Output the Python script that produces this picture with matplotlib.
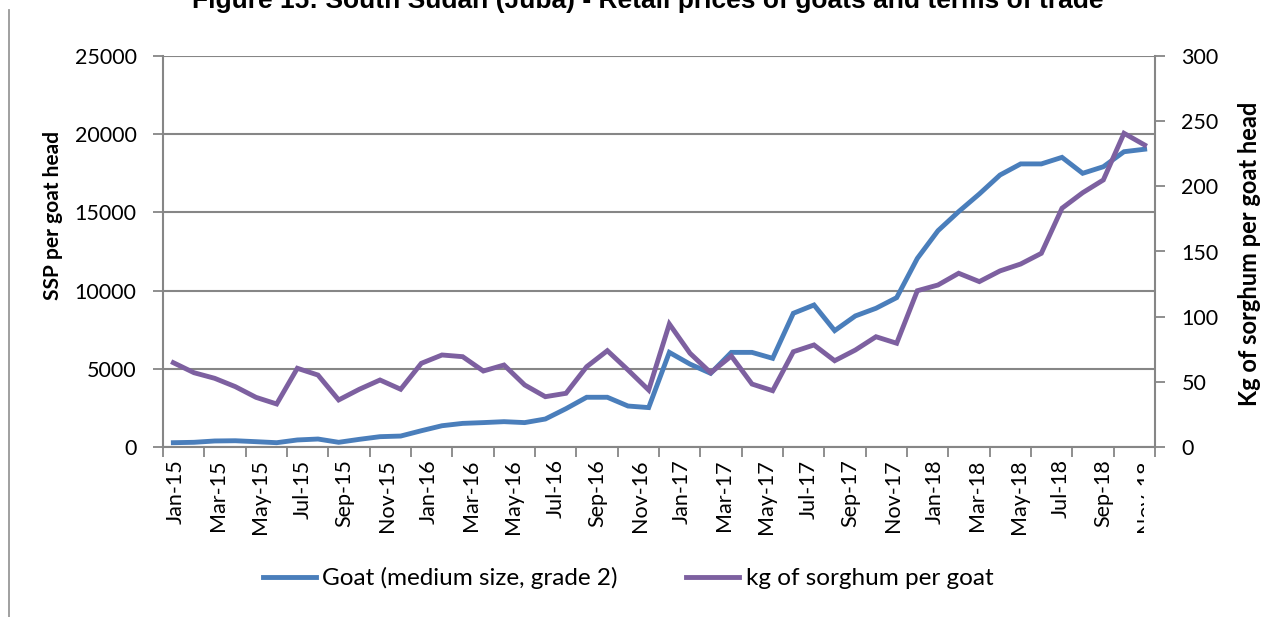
import matplotlib
matplotlib.use("Agg")
from matplotlib import pyplot as plt
from matplotlib.transforms import Bbox, TransformedBbox
import numpy as np

# monthly series, Jan-15 .. Dec-18
months = ["Jan", "Feb", "Mar", "Apr", "May", "Jun", "Jul", "Aug", "Sep", "Oct", "Nov", "Dec"]
labels = [m + "-" + y for y in ["15", "16", "17", "18"] for m in months]

goat_price = [275, 300, 385, 400, 340, 275, 450, 510, 300, 490,
              660, 700, 1040, 1360, 1510, 1560, 1620, 1560, 1790, 2450,
              3180, 3180, 2620, 2520, 6050, 5300, 4710, 6050, 6050, 5670,
              8550, 9080, 7440, 8380, 8870, 9550, 12060, 13830, 15050, 16180,
              17390, 18100, 18100, 18520, 17500, 17920, 18880, 19040]

kg_sorghum = [64.7, 57.0, 52.7, 46.3, 38.1, 33.0, 60.4, 55.2, 36.1, 44.3,
              51.4, 44.3, 64.2, 70.6, 69.3, 58.3, 62.9, 47.6, 38.6, 41.2,
              61.6, 73.9, 59.1, 43.7, 94.4, 71.9, 57.0, 69.8, 48.3, 43.2,
              73.1, 78.3, 66.2, 74.4, 84.6, 79.6, 119.9, 124.3, 133.3, 126.9,
              135.1, 140.4, 148.6, 183.2, 195.1, 204.9, 240.7, 231.7]

blue = "#4A7EBB"
purple = "#7D60A0"
grey = "#868686"

plt.rcParams['font.family'] = ['Lato', 'DejaVu Sans']

fig = plt.figure(figsize=(12.7, 6.17), dpi=100)
ax = fig.add_axes([163 / 1270, 1 - 447 / 617, 992 / 1270, 391 / 617])
ax2 = ax.twinx()

x = np.arange(len(goat_price)) + 0.5
l1, = ax.plot(x, goat_price, color=blue, lw=3.5, solid_joinstyle='miter')
l2, = ax2.plot(x, kg_sorghum, color=purple, lw=3.5, solid_joinstyle='miter')

ax.set_xlim(0, 48)
ax.set_ylim(0, 25000)
ax2.set_ylim(0, 300)
ax.set_yticks(range(0, 25001, 5000))
ax2.set_yticks(range(0, 301, 50))
ax.grid(axis='y', color=grey, lw=1.5)
ax.set_axisbelow(True)

# tick marks every two months, labels drift slightly like the original
ax.set_xticks(np.arange(0, 49, 2))
ax.set_xticklabels([])
ax.set_xticks(0.62 + np.arange(24) * 2.04, minor=True)
ax.set_xticklabels(labels[::2], minor=True, rotation=90, fontsize=15.5)
ax.tick_params(axis='x', which='minor', length=0, pad=9)
ax.tick_params(axis='x', which='major', length=7, color=grey, width=1.3)
ax.tick_params(axis='y', length=7, color=grey, width=1.3, labelsize=15.5, pad=12)
ax2.tick_params(axis='y', length=7, color=grey, width=1.3, labelsize=15.5, pad=12)

for a in (ax, ax2):
    for s in a.spines.values():
        s.set_visible(False)
    a.spines['left'].set_visible(a is ax)
    a.spines['right'].set_visible(a is ax2)
    a.spines['bottom'].set_visible(a is ax)
    for s in a.spines.values():
        s.set_color(grey)
        s.set_linewidth(1.5)

ax.set_ylabel("SSP per goat head", fontsize=15, fontweight='bold')
ax.yaxis.set_label_coords(-100 / 992, 0.593)
ax2.set_ylabel("Kg of sorghum per goat head", fontsize=17, fontweight='bold')
ax2.yaxis.set_label_coords(1 + 83 / 992, 0.494)

# last tick label is cut off in the original, only a sliver shows
fig.canvas.draw()
clip = TransformedBbox(Bbox([[0, 0], [1144 / 1270, 1]]), fig.transFigure)
ax.get_xticklabels(minor=True)[-1].set_clip_box(clip)
ax.get_xticklabels(minor=True)[-1].set_clip_on(True)

fig.legend([l1, l2], ["Goat (medium size, grade 2)", "kg of sorghum per goat"],
           loc='center', bbox_to_anchor=(628 / 1270, 1 - 578 / 617), ncol=2,
           frameon=False, fontsize=17.5, handlelength=2.2, columnspacing=2.8,
           handletextpad=0.25)

fig.text(648 / 1270, 1 - 8 / 617,
         "Figure 15: South Sudan (Juba) - Retail prices of goats and terms of trade",
         ha='center', va='baseline', fontsize=19, fontweight='bold',
         family=['Liberation Sans Narrow', 'Liberation Sans', 'DejaVu Sans'])

fig.add_artist(plt.Line2D([9 / 1270, 9 / 1270], [0, 1 - 10 / 617],
                          color='#999999', lw=1.3, transform=fig.transFigure))

fig.savefig("out.png", dpi=100)
